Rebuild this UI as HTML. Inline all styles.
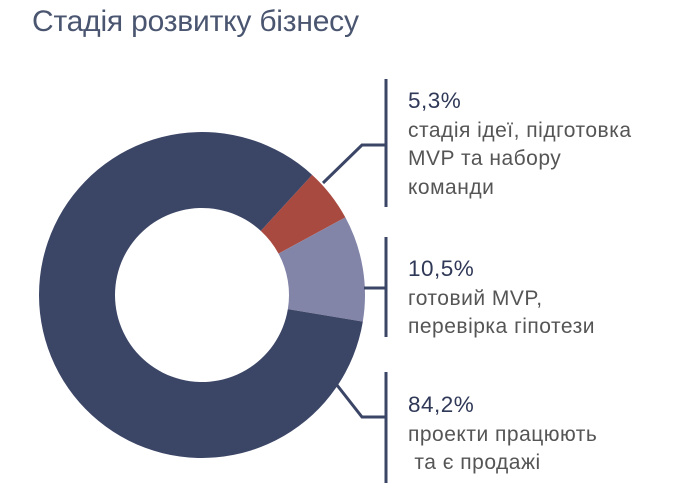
<!DOCTYPE html>
<html><head><meta charset="utf-8"><style>
html,body{margin:0;padding:0;background:#fff;width:680px;height:490px;overflow:hidden}
body{position:relative;font-family:"Liberation Sans",sans-serif}
.t{position:absolute;left:32px;top:5px;font-size:30px;color:#4a5570;letter-spacing:-0.2px}
.l{position:absolute;left:408px;font-size:21px;line-height:28.5px;color:#555;letter-spacing:0.5px}
.l b{color:#2f3857;font-weight:normal;font-size:22.5px}
</style></head><body>
<div class="t">Стадія розвитку бізнесу</div>
<svg width="680" height="490" style="position:absolute;left:0;top:0">
<g id="d"></g>
<g stroke="#3b4566" stroke-width="3" fill="none">
<line x1="386" y1="79" x2="386" y2="207"/>
<polyline points="386,145 362,145 323,183"/>
<line x1="386" y1="237" x2="386" y2="337"/>
<line x1="386" y1="288" x2="364" y2="288"/>
<line x1="386" y1="372" x2="386" y2="483"/>
<polyline points="386,417 362,417 333,380"/>
</g>
</svg>
<div class="l" style="top:87px"><b>5,3%</b><br>стадія ідеї, підготовка<br>MVP та набору<br>команди</div>
<div class="l" style="top:255px"><b>10,5%</b><br>готовий MVP,<br>перевірка гіпотези</div>
<div class="l" style="top:391px"><b>84,2%</b><br>проекти працюють<br>&nbsp;та є продажі</div>
<script>
var cx=202,cy=295,R=163,r=87,start=42.5;
var data=[[5.3,"#a94a40"],[10.5,"#8385a8"],[84.2,"#3b4566"]];
var g=document.getElementById("d"),a=start,h="";
function p(rad,deg){var t=deg*Math.PI/180;return (cx+rad*Math.sin(t)).toFixed(2)+","+(cy-rad*Math.cos(t)).toFixed(2);}
data.forEach(function(d){var b=a+d[0]*3.6,lg=(b-a)>180?1:0;
h+='<path fill="'+d[1]+'" d="M'+p(R,a)+' A'+R+','+R+' 0 '+lg+' 1 '+p(R,b)+' L'+p(r,b)+' A'+r+','+r+' 0 '+lg+' 0 '+p(r,a)+' Z"/>';a=b;});
g.innerHTML=h;
</script>
</body></html>
